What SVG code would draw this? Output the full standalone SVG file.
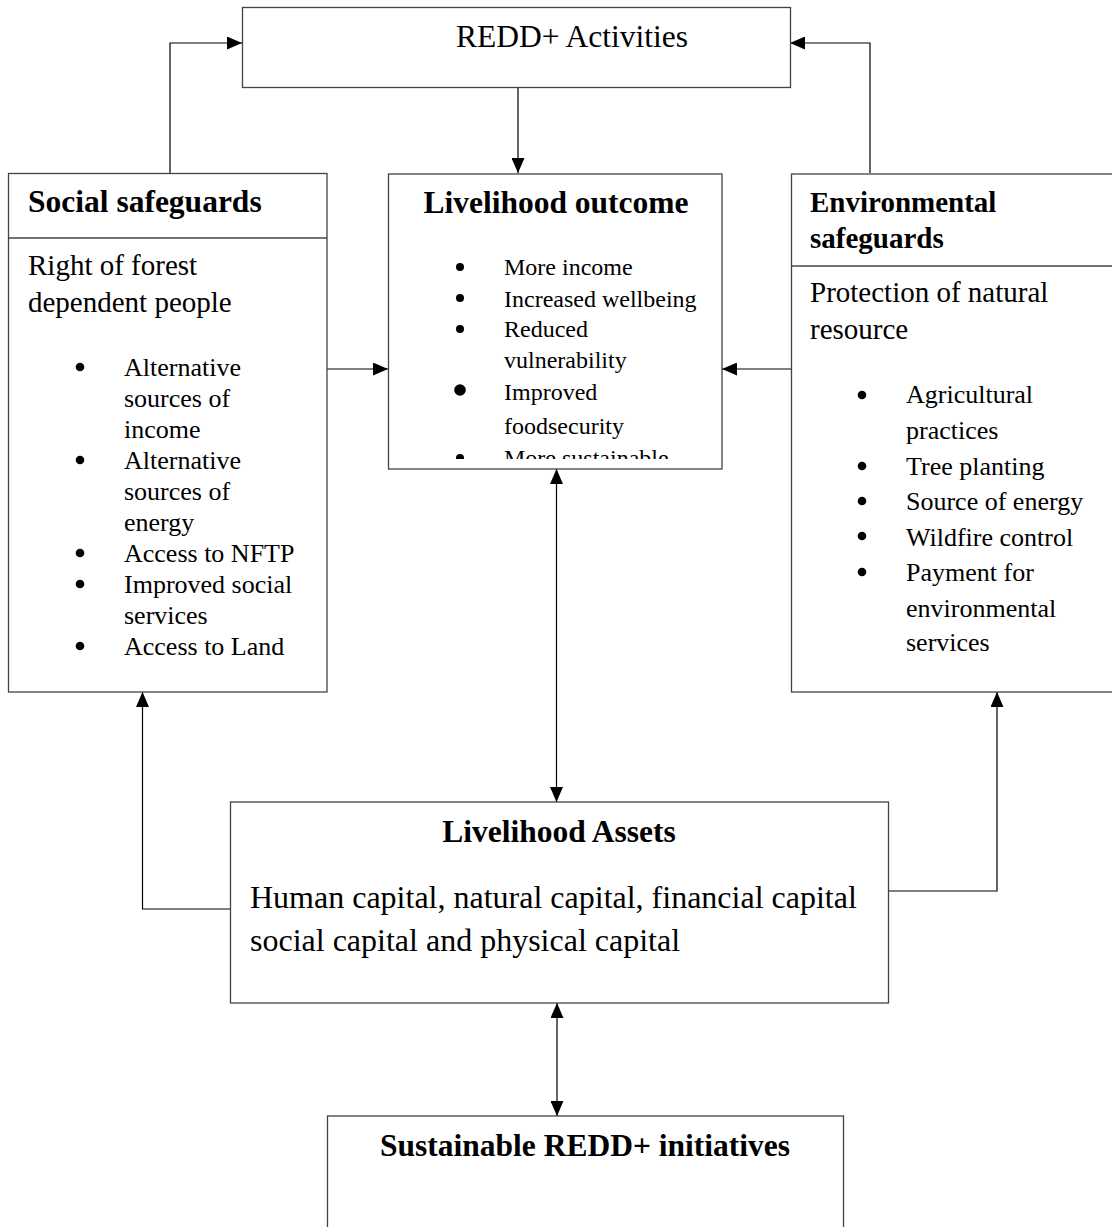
<svg xmlns="http://www.w3.org/2000/svg" width="1112" height="1227" viewBox="0 0 1112 1227">
<style>
.box{fill:#fff;stroke:#444;stroke-width:1.3}
.t{font-family:"Liberation Serif","Times New Roman",serif;fill:#000}
.b{font-weight:bold}
.con{fill:none;stroke:#000;stroke-width:1.2}
</style>
<defs>
<marker id="arr" markerUnits="userSpaceOnUse" markerWidth="15" markerHeight="13" refX="15" refY="6.5" orient="auto-start-reverse" viewBox="0 0 15 13">
<path d="M0,0 L15,6.5 L0,13 z" fill="#000"/>
</marker>
<clipPath id="clipOut"><rect x="389" y="175" width="332" height="284"/></clipPath>
</defs>
<rect width="1112" height="1227" fill="#fff"/>

<g id="connectors">
<path class="con" d="M170,173 V43 H242" marker-end="url(#arr)"/>
<path class="con" d="M870,173 V43 H790" marker-end="url(#arr)"/>
<path class="con" d="M518,87 V173" marker-end="url(#arr)"/>
<path class="con" d="M327,369 H388" marker-end="url(#arr)"/>
<path class="con" d="M791,369 H722" marker-end="url(#arr)"/>
<path class="con" d="M556.5,469 V802" marker-start="url(#arr)" marker-end="url(#arr)"/>
<path class="con" d="M230,909 H142.5 V692" marker-end="url(#arr)"/>
<path class="con" d="M888,891 H997 V692" marker-end="url(#arr)"/>
<path class="con" d="M557,1003 V1116" marker-start="url(#arr)" marker-end="url(#arr)"/>
</g>

<g id="redd-activities">
<rect class="box" x="242.5" y="7.5" width="548" height="80"/>
<text class="t" x="572" y="47" font-size="31.5" text-anchor="middle">REDD+ Activities</text>
</g>

<g id="social-safeguards">
<rect class="box" x="8.5" y="173.5" width="318.5" height="518.5"/>
<line class="box" x1="8.5" y1="238" x2="327" y2="238"/>
<text class="t b" x="28" y="212" font-size="31.5">Social safeguards</text>
<text class="t" font-size="29"><tspan x="28" y="275">Right of forest</tspan><tspan x="28" y="312">dependent people</tspan></text>
<g class="t" font-size="26">
<circle cx="80" cy="367" r="4.3"/><circle cx="80" cy="460" r="4.3"/><circle cx="80" cy="553" r="4.3"/><circle cx="80" cy="584" r="4.3"/><circle cx="80" cy="646" r="4.3"/>
<text x="124" y="376">Alternative</text>
<text x="124" y="407">sources of</text>
<text x="124" y="438">income</text>
<text x="124" y="469">Alternative</text>
<text x="124" y="500">sources of</text>
<text x="124" y="531">energy</text>
<text x="124" y="562">Access to NFTP</text>
<text x="124" y="593">Improved social</text>
<text x="124" y="624">services</text>
<text x="124" y="655">Access to Land</text>
</g>
</g>

<g id="livelihood-outcome">
<rect class="box" x="388.5" y="174" width="333.5" height="295"/>
<text class="t b" x="556" y="213" font-size="31.5" text-anchor="middle">Livelihood outcome</text>
<g clip-path="url(#clipOut)" class="t" font-size="24">
<circle cx="460" cy="267" r="4"/><circle cx="460" cy="298" r="4"/><circle cx="460" cy="329" r="4"/><circle cx="460" cy="390" r="5.8"/><circle cx="460" cy="458" r="4"/>
<text x="504" y="275">More income</text>
<text x="504" y="307">Increased wellbeing</text>
<text x="504" y="337">Reduced</text>
<text x="504" y="368">vulnerability</text>
<text x="504" y="400">Improved</text>
<text x="504" y="434">foodsecurity</text>
<text x="504" y="466">More sustainable</text>
</g>
</g>

<g id="environmental-safeguards">
<rect class="box" x="791.5" y="174" width="330" height="518"/>
<line class="box" x1="791.5" y1="266" x2="1112" y2="266"/>
<text class="t b" font-size="29"><tspan x="810" y="212">Environmental</tspan><tspan x="810" y="248">safeguards</tspan></text>
<text class="t" font-size="29"><tspan x="810" y="302">Protection of natural</tspan><tspan x="810" y="339">resource</tspan></text>
<g class="t" font-size="26">
<circle cx="862" cy="395" r="4.3"/><circle cx="862" cy="466" r="4.3"/><circle cx="862" cy="501" r="4.3"/><circle cx="862" cy="536" r="4.3"/><circle cx="862" cy="572" r="4.3"/>
<text x="906" y="403">Agricultural</text>
<text x="906" y="439">practices</text>
<text x="906" y="475">Tree planting</text>
<text x="906" y="510">Source of energy</text>
<text x="906" y="546">Wildfire control</text>
<text x="906" y="581">Payment for</text>
<text x="906" y="617">environmental</text>
<text x="906" y="651">services</text>
</g>
</g>

<g id="livelihood-assets">
<rect class="box" x="230.5" y="802" width="658" height="201"/>
<text class="t b" x="559" y="842" font-size="31.5" text-anchor="middle">Livelihood Assets</text>
<text class="t" font-size="32"><tspan x="250" y="908">Human capital, natural capital, financial capital</tspan><tspan x="250" y="951">social capital and physical capital</tspan></text>
</g>

<g id="sustainable-redd">
<rect class="box" x="327.5" y="1116" width="516" height="130"/>
<text class="t b" x="585" y="1156" font-size="31.5" text-anchor="middle">Sustainable REDD+ initiatives</text>
</g>
</svg>
